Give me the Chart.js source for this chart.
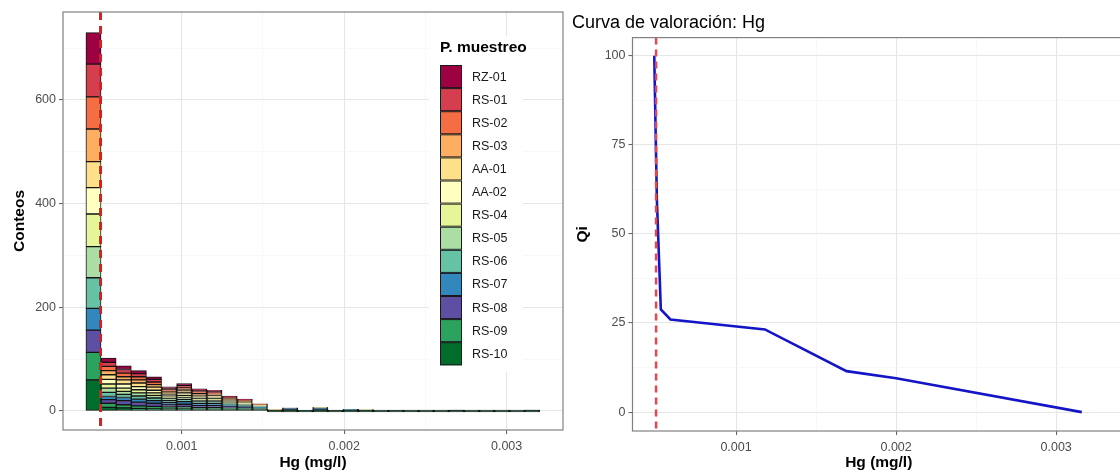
<!DOCTYPE html>
<html>
<head>
<meta charset="utf-8">
<script src="https://cdn.jsdelivr.net/npm/chart.js@4.4.1/dist/chart.umd.min.js"></script>
<style>
  body { margin: 0; width: 1120px; height: 472px; overflow: hidden; background: #fff; position: relative; }
  #izq { position: absolute; left: 0; top: 0; width: 570px; height: 472px; }
  #der { position: absolute; left: 570px; top: 0; width: 560px; height: 472px; }
</style>
</head>
<body>
<div id="izq"><canvas id="histograma" width="570" height="472"></canvas></div>
<div id="der"><canvas id="curva" width="560" height="472"></canvas></div>
<script>
// centros de los 30 bins del histograma (mg/l)
const BIN_CENTROS = [0.0004566, 0.0005497, 0.0006428, 0.0007359, 0.0008290, 0.0009221,
  0.0010152, 0.0011083, 0.0012014, 0.0012945, 0.0013876, 0.0014807, 0.0015738, 0.0016669,
  0.0017600, 0.0018531, 0.0019462, 0.0020393, 0.0021324, 0.0022255, 0.0023186, 0.0024117,
  0.0025048, 0.0025979, 0.0026910, 0.0027841, 0.0028772, 0.0029703, 0.0030634, 0.0031565];

const PUNTOS = ['RZ-01', 'RS-01', 'RS-02', 'RS-03', 'AA-01', 'AA-02', 'RS-04',
  'RS-05', 'RS-06', 'RS-07', 'RS-08', 'RS-09', 'RS-10'];

// conteos por bin para cada punto de muestreo
const RZ01 = [61, 8,7,6,5,3,4,3,2,1,1,0, 0,0,0,0,0,0,0,0,0,0,0,0,0,0,0,0,0,0];
const RS01 = [63, 8,7,6,5,3,3,3,3,2,1,1, 0,0,0,0,0,0,0,0,0,0,0,0,0,0,0,0,0,0];
const RS02 = [62, 8,7,6,5,3,4,3,2,2,1,1, 0,0,0,0,0,0,0,0,0,0,0,0,0,0,0,0,0,0];
const RS03 = [63, 8,6,6,5,3,3,3,3,2,2,0, 0,0,0,0,0,0,0,0,0,0,0,0,0,0,0,0,0,0];
const AA01 = [50, 9,8,7,6,4,4,4,3,2,2,1, 1,0,0,1,0,0,0,0,0,0,0,0,0,0,0,0,0,0];
const AA02 = [51, 9,8,6,5,4,5,3,3,2,2,1, 0,1,0,0,0,0,1,0,0,0,0,0,0,0,0,0,0,0];
const RS04 = [63, 8,6,6,5,3,4,3,3,2,1,1, 0,0,0,0,0,0,0,0,0,0,0,0,0,0,0,0,0,0];
const RS05 = [60, 8,6,6,5,4,4,3,3,2,2,1, 0,0,0,0,0,0,0,0,0,0,0,0,0,0,0,0,0,0];
const RS06 = [59, 8,6,6,5,4,4,3,3,2,2,1, 0,0,0,1,0,0,0,0,0,0,0,0,0,0,0,0,0,0];
const RS07 = [42, 6,6,6,5,4,5,4,4,3,2,1, 1,2,1,2,0,1,1,0,1,0,0,0,1,0,0,0,0,1];
const RS08 = [43, 7,8,7,6,4,5,4,4,3,2,1, 1,2,0,2,1,1,1,0,0,0,0,0,1,0,0,0,0,1];
const RS09 = [53, 8,6,5,5,4,4,3,3,2,1,1, 0,1,0,1,0,1,0,0,0,0,0,0,0,0,0,0,0,0];
const RS10 = [60, 7,6,5,4,3,4,3,3,1,1,1, 0,0,0,0,0,0,0,0,0,0,0,0,0,0,0,0,0,0];
const CONTEOS = [RZ01, RS01, RS02, RS03, AA01, AA02, RS04, RS05, RS06, RS07, RS08, RS09, RS10];

const COLORES = ['#9e0142', '#d53e4f', '#f46d43', '#fdae61', '#fee08b', '#ffffbf', '#e6f598',
  '#abdda4', '#66c2a5', '#3288bd', '#5e4fa2', '#2ca25f', '#006d2c'];

// limite (linea roja) y curva de valoracion
const LIMITE_HG = 0.0005;
const HG_CURVA = [0.000489, 0.000505, 0.00053, 0.00059, 0.00118, 0.00169, 0.002, 0.00316];
const QI_CURVA = [100, 60, 28.8, 26, 23.2, 11.5, 9.5, 0];

const X_TICKS_HG = [0.001, 0.002, 0.003];
const Y_TICKS_CONTEOS = [0, 200, 400, 600];
const Y_TICKS_QI = [0, 25, 50, 75, 100];

const FUENTE = '"Liberation Sans", Arial, sans-serif';

// marcas mayores + menores (punto medio entre mayores)
function conMenores(mayores, extraAbajo, extraArriba) {
  const paso = mayores[1] - mayores[0];
  const out = [];
  mayores.forEach(v => { out.push(v); out.push(v + paso / 2); });
  out.push(mayores[0] - paso / 2);
  return out.filter(v => v >= extraAbajo && v <= extraArriba).sort((a, b) => a - b);
}
function esMayor(lista, v) {
  return lista.some(m => Math.abs(m - v) < 1e-9);
}

function ejeX(min, max, alto) {
  return {
    type: 'linear', min: min, max: max, offset: false,
    afterBuildTicks: ax => { ax.ticks = conMenores(X_TICKS_HG, min, max).map(v => ({ value: v })); },
    afterFit: ax => { ax.height = alto; },
    grid: {
      offset: false, drawTicks: true, tickLength: 4,
      color: c => esMayor(X_TICKS_HG, c.tick.value) ? '#e6e6e6' : '#f3f3f3',
      lineWidth: c => esMayor(X_TICKS_HG, c.tick.value) ? 1.1 : 0.6,
      tickColor: c => esMayor(X_TICKS_HG, c.tick.value) ? '#666' : 'rgba(0,0,0,0)'
    },
    border: { display: false },
    ticks: {
      autoSkip: false, maxRotation: 0, padding: 5, color: '#4d4d4d',
      font: { family: FUENTE, size: 12.5 },
      callback: v => esMayor(X_TICKS_HG, v) ? v.toFixed(3) : ''
    },
    title: { display: true, text: 'Hg (mg/l)', color: '#000', padding: { top: 0, bottom: 0 },
      font: { family: FUENTE, size: 15.5, weight: 'bold' } }
  };
}

function ejeY(mayores, min, max, ancho, titulo, padTitulo) {
  return {
    type: 'linear', min: min, max: max,
    stacked: true,
    afterBuildTicks: ax => { ax.ticks = conMenores(mayores, min, max).map(v => ({ value: v })); },
    afterFit: ax => { ax.width = ancho; },
    grid: {
      drawTicks: true, tickLength: 4,
      color: c => esMayor(mayores, c.tick.value) ? '#e6e6e6' : '#f3f3f3',
      lineWidth: c => esMayor(mayores, c.tick.value) ? 1.1 : 0.6,
      tickColor: c => esMayor(mayores, c.tick.value) ? '#666' : 'rgba(0,0,0,0)'
    },
    border: { display: false },
    ticks: {
      autoSkip: false, padding: 3, color: '#4d4d4d',
      font: { family: FUENTE, size: 12.5 },
      callback: v => esMayor(mayores, v) ? String(v) : ''
    },
    title: { display: true, text: titulo, color: '#000', padding: { top: padTitulo, bottom: 0 },
      font: { family: FUENTE, size: 15.5, weight: 'bold' } }
  };
}

// linea vertical discontinua en el limite + marco del panel
function pluginMarco(colorLinea, grosor, guion) {
  return {
    id: 'marco',
    afterDatasetsDraw(chart) {
      const { ctx, chartArea: a, scales } = chart;
      const x = scales.x.getPixelForValue(LIMITE_HG);
      ctx.save();
      ctx.strokeStyle = colorLinea;
      ctx.lineWidth = grosor;
      ctx.setLineDash(guion);
      ctx.beginPath();
      ctx.moveTo(x, a.top);
      ctx.lineTo(x, a.bottom);
      ctx.stroke();
      ctx.setLineDash([]);
      ctx.strokeStyle = '#808080';
      ctx.lineWidth = 1.2;
      ctx.strokeRect(a.left, a.top, a.right - a.left, a.bottom - a.top);
      ctx.restore();
    }
  };
}

// leyenda dentro del panel, como en ggplot
const leyendaMuestreo = {
  id: 'leyendaMuestreo',
  afterDraw(chart) {
    const ctx = chart.ctx;
    ctx.save();
    ctx.fillStyle = '#fff';
    ctx.fillRect(429, 36, 94, 336);
    ctx.fillStyle = '#000';
    ctx.font = 'bold 15.5px ' + FUENTE;
    ctx.textBaseline = 'middle';
    ctx.textAlign = 'left';
    ctx.fillText('P. muestreo', 440, 48);
    ctx.font = '12.5px ' + FUENTE;
    const alto = 23.1;
    PUNTOS.forEach((p, i) => {
      const y = 65 + i * alto;
      ctx.fillStyle = COLORES[i];
      ctx.fillRect(440, y, 22, alto);
      ctx.strokeStyle = '#1a1a1a';
      ctx.lineWidth = 1;
      ctx.strokeRect(440.5, y + 0.5, 21, alto - 1);
      ctx.fillStyle = '#1a1a1a';
      ctx.fillText(p, 472, y + alto / 2 + 0.5);
    });
    ctx.restore();
  }
};

// histograma apilado: RS-10 abajo, RZ-01 arriba
const datasetsHist = PUNTOS.map((p, i) => ({
  label: p,
  data: BIN_CENTROS.map((x, k) => ({ x: x, y: CONTEOS[i][k] })),
  backgroundColor: COLORES[i],
  borderColor: '#141414',
  borderWidth: 1,
  borderSkipped: false,
  barPercentage: 1,
  categoryPercentage: 1,
  minBarLength: i === PUNTOS.length - 1 ? 2 : 0
})).reverse();

new Chart(document.getElementById('histograma'), {
  type: 'bar',
  data: { datasets: datasetsHist },
  options: {
    responsive: false,
    animation: false,
    devicePixelRatio: 1,
    layout: { padding: { left: 0, right: 7, top: 12, bottom: 0 } },
    plugins: { legend: { display: false }, tooltip: { enabled: false } },
    scales: {
      x: Object.assign(ejeX(0.000269, 0.003347, 42), { stacked: true }),
      y: ejeY(Y_TICKS_CONTEOS, -36.65, 769.65, 63, 'Conteos', 10.5)
    }
  },
  plugins: [pluginMarco('#e41a1c', 3, [8, 6]), leyendaMuestreo]
});

new Chart(document.getElementById('curva'), {
  type: 'line',
  data: {
    datasets: [{
      label: 'Qi',
      data: HG_CURVA.map((x, k) => ({ x: x, y: QI_CURVA[k] })),
      borderColor: '#1515c8',
      borderWidth: 2.6,
      pointRadius: 0,
      tension: 0,
      fill: false
    }]
  },
  options: {
    responsive: false,
    animation: false,
    devicePixelRatio: 1,
    layout: { padding: { left: 2, right: 5, top: 0, bottom: 0 } },
    plugins: {
      legend: { display: false },
      tooltip: { enabled: false },
      title: {
        display: true, text: 'Curva de valoración: Hg', align: 'start', color: '#000',
        padding: { top: 12, bottom: 4 },
        font: { family: FUENTE, size: 18, weight: 'normal' }
      }
    },
    scales: {
      x: ejeX(0.000353, 0.00343, 41),
      y: Object.assign(ejeY(Y_TICKS_QI, -5.3, 105.1, 60.5, 'Qi', 1.7), { stacked: false })
    }
  },
  plugins: [pluginMarco('#df4a4f', 2.5, [7, 5])]
});
</script>
</body>
</html>
